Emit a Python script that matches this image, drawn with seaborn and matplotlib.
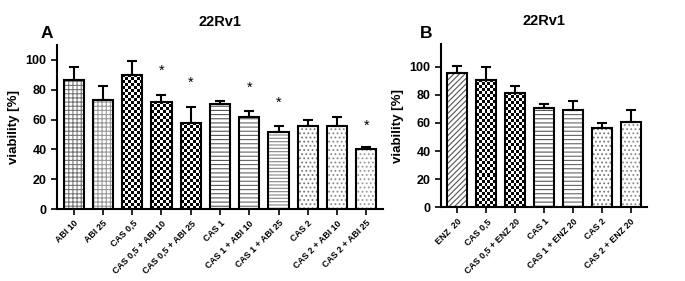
import numpy as np
import seaborn as sns
import matplotlib.pyplot as plt

# Panel A data (mean viability and SD)
labels_a = ["ABI 10", "ABI 25", "CAS 0,5", "CAS 0,5 + ABI 10", "CAS 0,5 + ABI 25",
            "CAS 1", "CAS 1 + ABI 10", "CAS 1 + ABI 25", "CAS 2", "CAS 2 + ABI 10",
            "CAS 2 + ABI 25"]
mean_a = [86.6, 73.2, 90.0, 71.8, 57.9, 70.5, 61.5, 51.9, 55.9, 55.9, 40.3]
sd_a = [8.9, 9.6, 9.3, 4.7, 10.8, 2.2, 4.5, 4.0, 3.8, 6.1, 1.5]
star_a = [None, None, None, 92.8, 84.8, None, 81.0, 71.3, None, None, 55.7]

# Panel B data
labels_b = ["ENZ  20", "CAS 0,5", "CAS 0,5 + ENZ 20", "CAS 1", "CAS 1 + ENZ 20",
            "CAS 2", "CAS 2 + ENZ 20"]
mean_b = [95.7, 90.5, 81.3, 71.0, 69.2, 56.1, 60.7]
sd_b = [4.7, 9.5, 5.2, 2.3, 6.4, 3.9, 8.7]

# fill style per bar: (hatch, hatch colour); "checker" is drawn as an image
style_a = [("++++", "#777777"), ("++++", "#999999"), ("checker", None), ("checker", None),
           ("checker", None), ("----", "#555555"), ("----", "#666666"), ("-----", "#888888"),
           ("....", "#777777"), ("....", "#888888"), ("....", "#999999")]
style_b = [("//////", "#555555"), ("checker", None), ("checker", None), ("----", "#555555"),
           ("----", "#666666"), ("....", "#777777"), ("....", "#888888")]

sns.set_style("ticks")
plt.rcParams['font.family'] = ['Liberation Sans', 'DejaVu Sans']
plt.rcParams['hatch.linewidth'] = 0.8
plt.rcParams['text.color'] = 'black'
plt.rcParams['axes.labelcolor'] = 'black'

fig = plt.figure(figsize=(6.85, 2.81), dpi=100)
axA = fig.add_axes([57/685, 1-209/281, (383-57)/685, (209-45)/281])
axB = fig.add_axes([441/685, 1-207.3/281, (647-441)/685, (207.3-44.3)/281])


def draw_panel(ax, labels, mean, sd, styles, ymax, letter, letter_dx, stars=None):
    n = len(labels)
    w = 0.69
    # layer 1: white bars carrying the hatch
    sns.barplot(x=labels, y=mean, color="white", width=w, linewidth=0,
                errorbar=None, saturation=1, ax=ax)
    ax.set_xlim(-0.57, n - 0.43)
    ax.set_ylim(0, ymax)
    for p, (h, c) in zip(list(ax.patches), styles):
        if h == "checker":
            x0, x1 = p.get_x(), p.get_x() + p.get_width()
            top = p.get_height()
            px = ax.transData.transform([(x0, 0), (x1, top)])
            cols = max(1, int(round((px[1, 0] - px[0, 0]) / 3.0)))
            rows = max(1, int(round((px[1, 1] - px[0, 1]) / 3.0)))
            board = (np.indices((rows, cols)).sum(axis=0) % 2).astype(float)
            im = ax.imshow(board, cmap="gray", extent=(x0, x1, 0, top), aspect="auto",
                           interpolation="nearest", origin="lower", zorder=1.5)
            im.set_clip_path(p)
        else:
            p.set_hatch(h)
            p.set_edgecolor(c)
    # layer 2: black outlines
    sns.barplot(x=labels, y=mean, fill=False, color="black", width=w, linewidth=1.5,
                errorbar=None, ax=ax)
    for p in ax.patches[n:]:
        p.set_zorder(3)
    ax.errorbar(range(n), mean, yerr=[np.zeros(n), sd], fmt="none", ecolor="black",
                elinewidth=1.5, capsize=3.5, capthick=1.5, zorder=2.5)
    if stars is not None:
        for i, s in enumerate(stars):
            if s is not None:
                ax.text(i, s, "*", ha="center", va="center", fontsize=10.5)
    ax.set_xlim(-0.57, n - 0.43)
    ax.set_ylim(0, ymax)
    ax.set_yticks([0, 20, 40, 60, 80, 100])
    ax.set_yticklabels(["0", "20", "40", "60", "80", "100"], fontsize=9, fontweight="bold")
    ax.set_xticks(range(n))
    ax.set_xticklabels(labels, rotation=45, ha="right", rotation_mode="anchor",
                       fontsize=6.4, fontweight="bold")
    ax.tick_params(axis="both", length=4, width=1.2, colors="black")
    ax.tick_params(axis="x", pad=3)
    for side in ["left", "bottom"]:
        ax.spines[side].set_linewidth(1.5)
        ax.spines[side].set_color("black")
    sns.despine(ax=ax)
    ax.set_ylabel("viability [%]", fontsize=9.5, fontweight="bold")
    ax.set_xlabel("")
    ax.set_title("22Rv1", fontsize=10.5, fontweight="bold", pad=14)
    ax.annotate(letter, xy=(0, 1), xycoords="axes fraction",
                xytext=(letter_dx, 8), textcoords="offset points",
                fontsize=12.5, fontweight="bold", ha="right", va="center")


draw_panel(axA, labels_a, mean_a, sd_a, style_a, 110, "A", -3, star_a)
draw_panel(axB, labels_b, mean_b, sd_b, style_b, 116, "B", -6)

fig.savefig("out.png", dpi=100)
